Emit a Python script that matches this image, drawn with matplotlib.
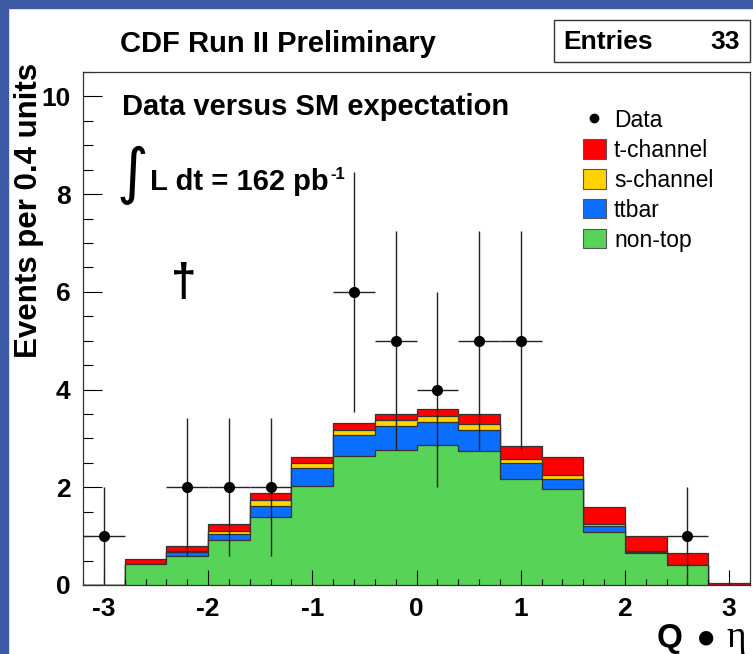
import numpy as np
import matplotlib
matplotlib.use("Agg")
import matplotlib.pyplot as plt
from matplotlib.patches import Rectangle, Patch
from matplotlib.lines import Line2D
from matplotlib.ticker import MultipleLocator

plt.rcParams["font.family"] = ["Liberation Sans", "DejaVu Sans"]
plt.rcParams["axes.unicode_minus"] = False

# Q*eta bins, width 0.4
edges = np.linspace(-3.2, 3.2, 17)
centers = 0.5 * (edges[:-1] + edges[1:])

# observed events per bin (33 entries)
data = [1, 0, 2, 2, 2, 0, 6, 5, 4, 5, 5, 0, 0, 0, 1, 0]

# SM expectation, stacked bottom -> top
non_top = [0.0, 0.42, 0.60, 0.92, 1.40, 2.03, 2.65, 2.77, 2.86, 2.75, 2.17, 1.97, 1.09, 0.65, 0.40, 0.0]
ttbar = [0.0, 0.01, 0.07, 0.12, 0.22, 0.36, 0.42, 0.49, 0.47, 0.43, 0.32, 0.20, 0.11, 0.03, 0.01, 0.0]
s_channel = [0.0, 0.01, 0.02, 0.07, 0.11, 0.10, 0.11, 0.12, 0.12, 0.11, 0.09, 0.08, 0.05, 0.01, 0.0, 0.0]
t_channel = [0.0, 0.10, 0.10, 0.13, 0.16, 0.14, 0.13, 0.13, 0.15, 0.22, 0.27, 0.37, 0.35, 0.31, 0.25, 0.04]

labels = ["t-channel", "s-channel", "ttbar", "non-top"]
colors = ["#ff0000", "#ffd200", "#0a6eff", "#57d357"]

W, H = 753, 654
fig = plt.figure(figsize=(W / 100, H / 100), dpi=100, facecolor="white")

# blue border of the slide
blue = "#3d5aa5"
fig.patches.append(Rectangle((0, 0), 8 / W, 1, transform=fig.transFigure, color=blue, zorder=0))
fig.patches.append(Rectangle((0, 1 - 8 / H), 1, 8 / H, transform=fig.transFigure, color=blue, zorder=0))

ax = fig.add_axes([83 / W, 69 / H, 667 / W, 513 / H])

c1 = np.array(non_top)
c2 = c1 + np.array(ttbar)
c3 = c2 + np.array(s_channel)
c4 = c3 + np.array(t_channel)

for vals, col in zip([c4, c3, c2, c1], colors):
    ax.stairs(vals, edges, fill=True, facecolor=col, edgecolor="#333333", linewidth=0.9, baseline=0)

d = np.array(data, dtype=float)
m = d > 0
ax.errorbar(centers[m], d[m], xerr=0.2, yerr=np.sqrt(d[m]), fmt="o", color="black",
            ecolor="#222222", elinewidth=1.0, markersize=7, capsize=0, zorder=5)

ax.set_xlim(-3.2, 3.2)
ax.set_ylim(0, 10.5)
ax.xaxis.set_major_locator(MultipleLocator(1))
ax.xaxis.set_minor_locator(MultipleLocator(0.2))
ax.yaxis.set_major_locator(MultipleLocator(2))
ax.yaxis.set_minor_locator(MultipleLocator(0.5))
ax.tick_params(axis="x", which="major", direction="in", length=11, width=0.8, pad=9, labelsize=19)
ax.tick_params(axis="x", which="minor", direction="in", length=4.5, width=0.8)
ax.tick_params(axis="y", which="major", direction="in", length=13.5, width=0.8, pad=9, labelsize=19)
ax.tick_params(axis="y", which="minor", direction="in", length=7, width=0.8)
for lab in ax.get_xticklabels() + ax.get_yticklabels():
    lab.set_fontweight("bold")
for sp in ax.spines.values():
    sp.set_linewidth(0.9)
    sp.set_color("#333333")

# legend
handles = [Line2D([], [], marker="o", color="black", linestyle="none", markersize=6)]
handles += [Patch(facecolor=c, edgecolor="#555555", linewidth=0.8) for c in colors]
ax.legend(handles, ["Data"] + labels, loc="upper left", bbox_to_anchor=(583 / W, 1 - 109 / H),
          bbox_transform=fig.transFigure, frameon=False, fontsize=16.5, handlelength=1.0,
          handleheight=0.92, handletextpad=0.35, labelspacing=0.3, borderpad=0, borderaxespad=0)

# texts
def fx(px):
    return px / W

def fy(py):
    return 1 - py / H

fig.text(fx(120), fy(52), "CDF Run II Preliminary", fontsize=21, fontweight="bold", va="baseline")
fig.patches.append(Rectangle((fx(554), fy(62)), 196 / W, 42 / H, transform=fig.transFigure,
                             facecolor="white", edgecolor="#333333", linewidth=1.0))
fig.text(fx(563), fy(49), "Entries", fontsize=19, fontweight="bold", va="baseline")
fig.text(fx(740), fy(49), "33", fontsize=19, fontweight="bold", va="baseline", ha="right")

fig.text(fx(29), fy(63), "Events per 0.4 units", fontsize=22.5, fontweight="bold",
         rotation=90, ha="center", va="top")

fig.text(fx(122), fy(115), "Data versus SM expectation", fontsize=21, fontweight="bold", va="baseline")
fig.text(fx(132), fy(175), "\u222b", fontsize=44, family=["DejaVu Sans"], ha="center", va="center")
fig.text(fx(150), fy(190), "L dt = 162 pb", fontsize=21, fontweight="bold", va="baseline")
fig.text(fx(330), fy(179), "-1", fontsize=12, fontweight="bold", va="baseline")
fig.text(fx(184), fy(284), "\u2020", fontsize=33, fontweight="bold", ha="center", va="center")

fig.text(fx(657), fy(647), "Q", fontsize=24, fontweight="bold", va="baseline")
fig.text(fx(706), fy(637), "\u25cf", fontsize=13.5, family=["DejaVu Sans"], va="center", ha="center")
fig.text(fx(726), fy(647), "\u03b7", fontsize=27, family="Liberation Serif", va="baseline")

fig.savefig("out.png", dpi=100)
